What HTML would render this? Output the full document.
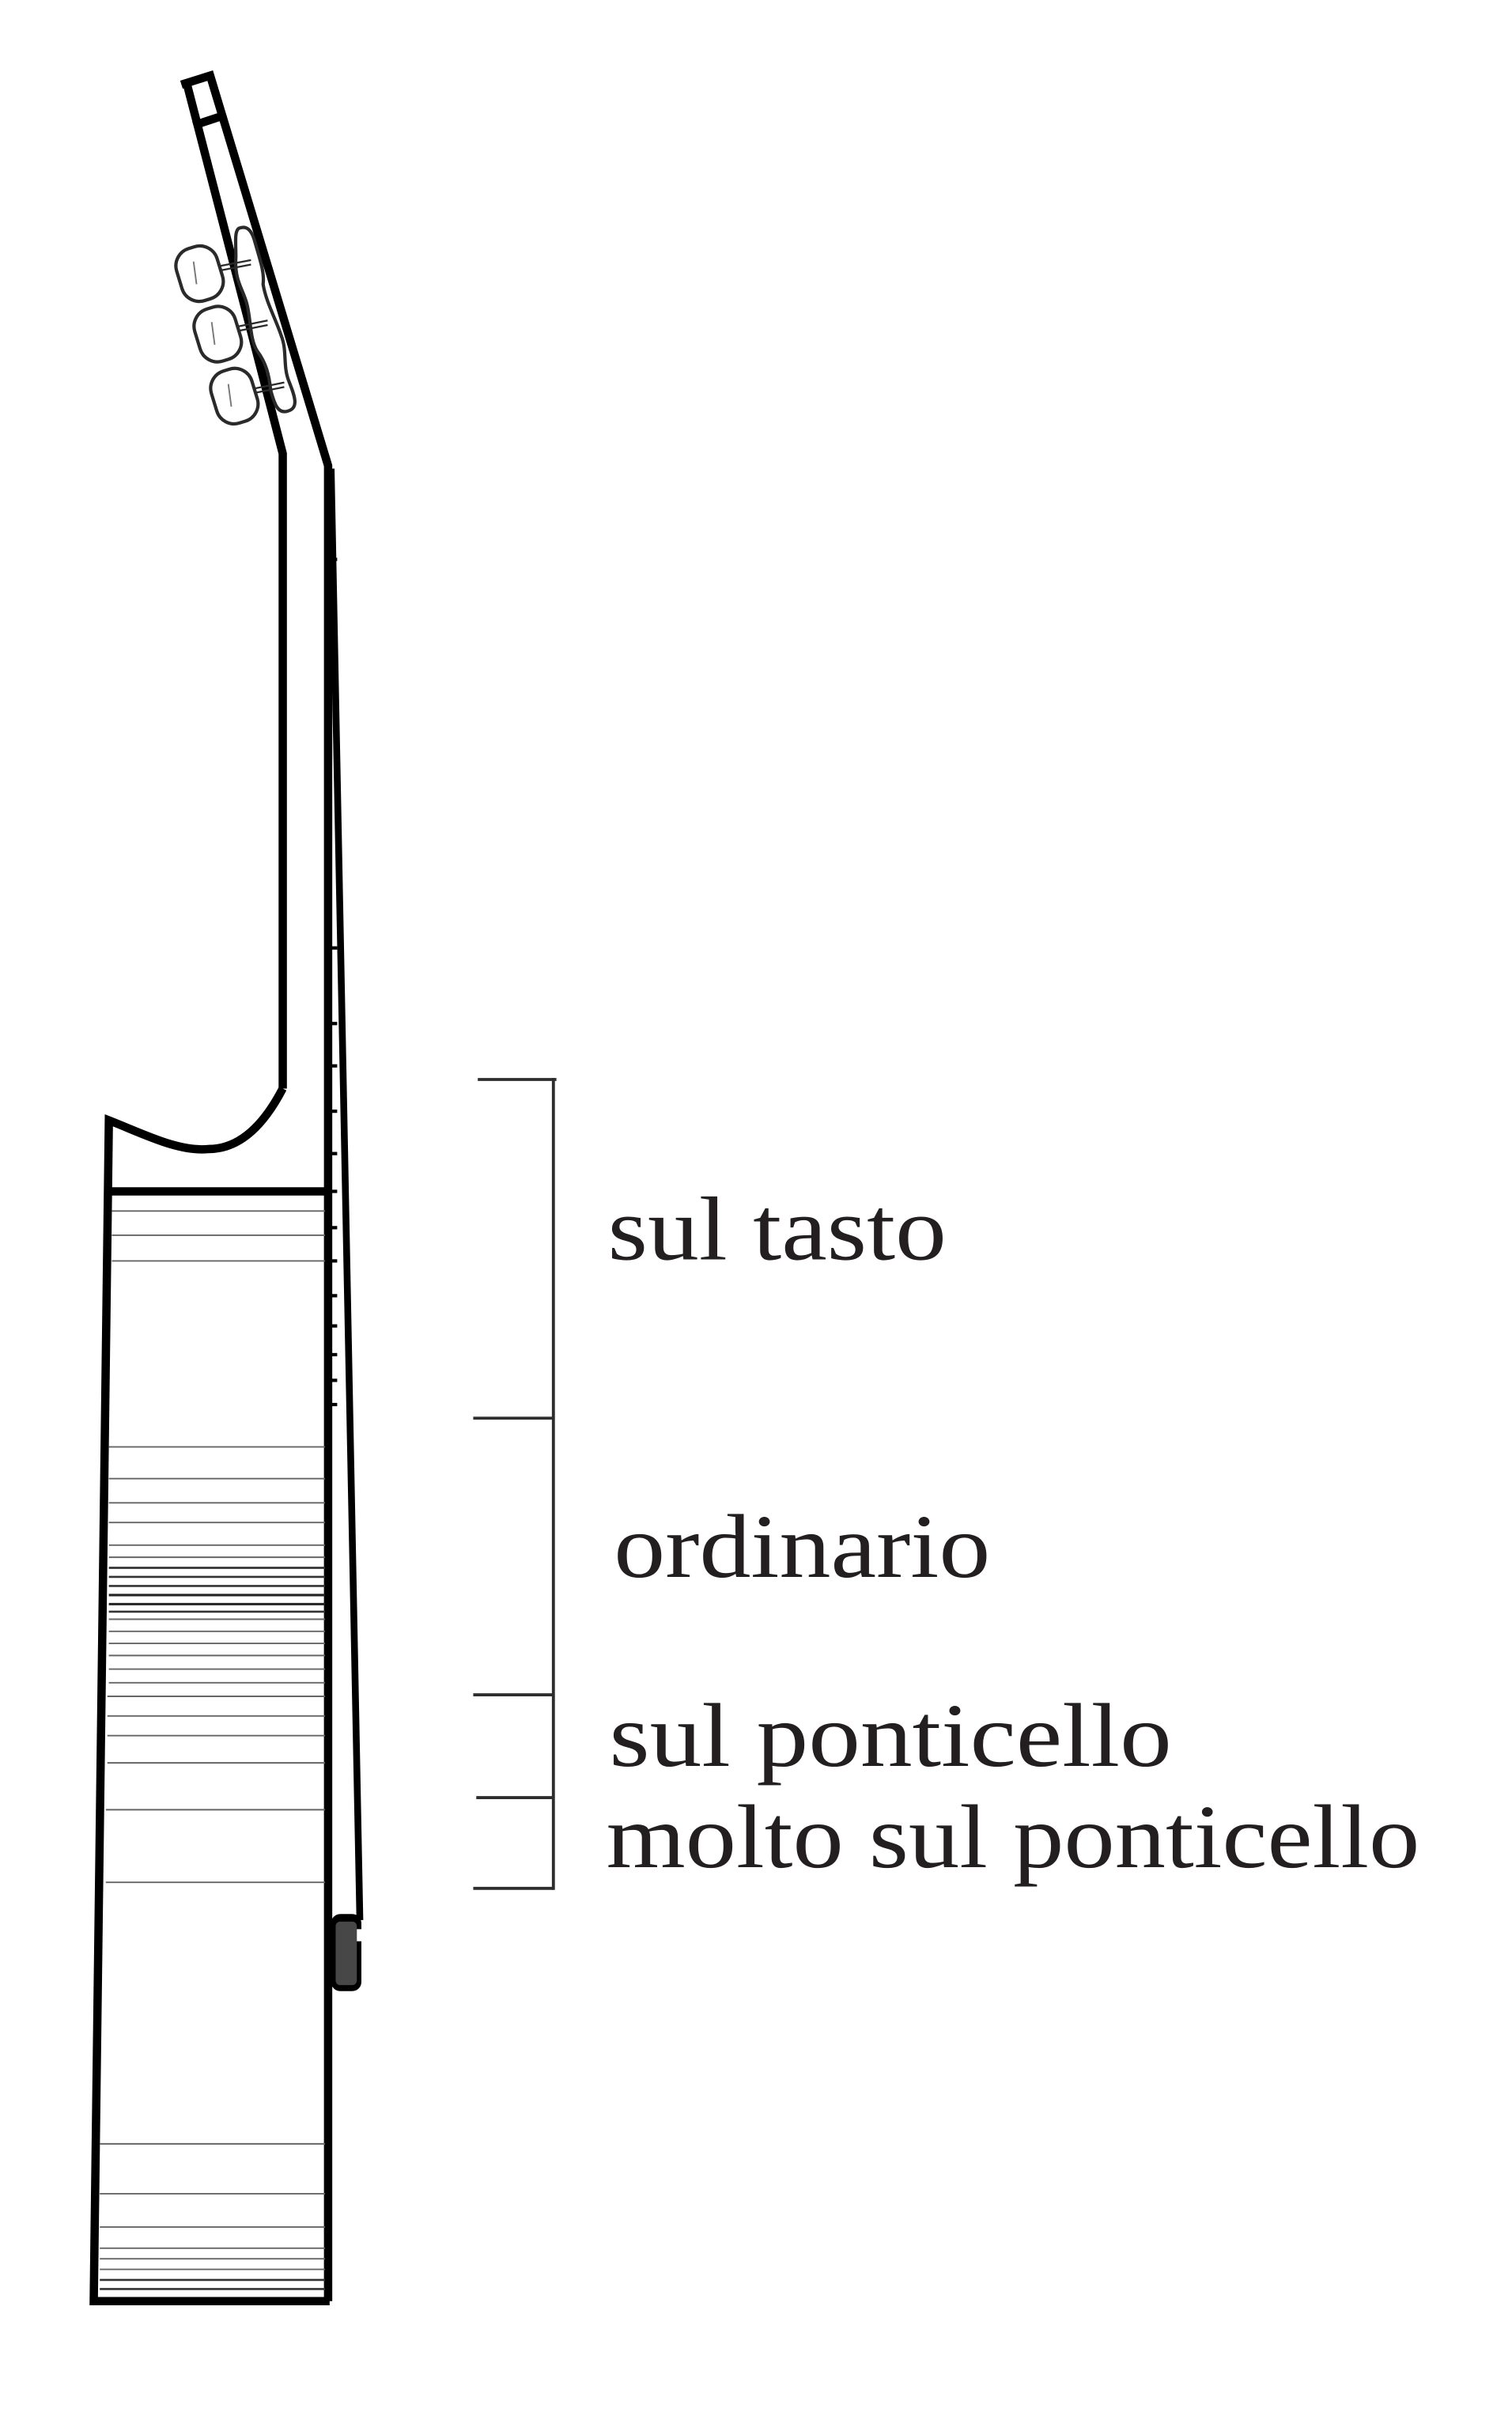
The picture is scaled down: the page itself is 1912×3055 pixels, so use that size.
<!DOCTYPE html>
<html><head><meta charset="utf-8"><style>
html,body{margin:0;padding:0;background:#fff;}
svg{display:block;}
</style></head><body>
<svg width="1912" height="3055" viewBox="0 0 1000 1598" preserveAspectRatio="none" xmlns="http://www.w3.org/2000/svg">
<rect width="1000" height="1598" fill="#fff"/>
<g fill="none" stroke="#000" stroke-width="5.5" stroke-linejoin="miter">
  <polyline points="124,57 187,300 187,720"/>
  <polyline points="120,56 139,50 217,308 217,1522"/>
  <line x1="128" y1="83" x2="146" y2="77"/>
</g>
<g fill="#fff" stroke="#2a2a2a" stroke-width="2.2">
  <path d="M158,151 C163,149 166,152 168,158 C172,172 175,180 174,188 C176,200 182,210 186,222 C190,232 187,242 191,252 C195,262 198,270 190,272 C183,274 181,265 179,258 C178,248 176,240 170,232 C165,224 166,210 163,200 C160,190 155,185 156,170 C156,160 155,153 158,151 Z"/>
  <g transform="rotate(-17 132 181)"><rect x="118" y="163" width="28" height="36" rx="12"/></g>
  <g transform="rotate(-17 144 221)"><rect x="130" y="203" width="28" height="36" rx="12"/></g>
  <g transform="rotate(-17 155 262)"><rect x="141" y="244" width="28" height="36" rx="12"/></g>
  <g stroke-width="1.2">
    <line x1="145" y1="176" x2="166" y2="172"/><line x1="145" y1="179" x2="166" y2="175"/>
    <line x1="157" y1="216" x2="177" y2="212"/><line x1="157" y1="219" x2="177" y2="215"/>
    <line x1="168" y1="257" x2="188" y2="253"/><line x1="168" y1="260" x2="188" y2="256"/>
  </g>
  <g stroke="#777" stroke-width="1"><line x1="128" y1="173" x2="130" y2="188"/><line x1="140" y1="213" x2="142" y2="228"/><line x1="151" y1="254" x2="153" y2="269"/></g>
</g>
<g fill="none" stroke="#000" stroke-width="5.5">
  <path d="M187,720 C174,745 158,760 138,760 C118,762 95,750 72,741 L62,1522 L218,1522"/>
  <line x1="72" y1="788" x2="217" y2="788"/>
</g>
<g stroke="#666" stroke-width="1">
  <line x1="74" y1="801" x2="215" y2="801"/><line x1="74" y1="817" x2="215" y2="817"/><line x1="74" y1="834" x2="215" y2="834"/>
  <line x1="72" y1="957" x2="215" y2="957"/><line x1="72" y1="978" x2="215" y2="978"/><line x1="72" y1="994" x2="215" y2="994"/>
  <line x1="72" y1="1007" x2="215" y2="1007"/><line x1="72" y1="1022" x2="215" y2="1022"/><line x1="72" y1="1030" x2="215" y2="1030"/>
  <line x1="72" y1="1037" x2="215" y2="1037" stroke="#333" stroke-width="1.4"/><line x1="72" y1="1043" x2="215" y2="1043" stroke="#333" stroke-width="1.4"/>
  <line x1="72" y1="1049" x2="215" y2="1049" stroke="#333" stroke-width="1.4"/><line x1="72" y1="1055" x2="215" y2="1055" stroke="#222" stroke-width="1.6"/>
  <line x1="72" y1="1061" x2="215" y2="1061" stroke="#222" stroke-width="1.6"/><line x1="72" y1="1066" x2="215" y2="1066" stroke="#333" stroke-width="1.4"/>
  <line x1="72" y1="1071" x2="215" y2="1071"/><line x1="72" y1="1079" x2="215" y2="1079"/><line x1="72" y1="1087" x2="215" y2="1087"/>
  <line x1="72" y1="1095" x2="215" y2="1095"/><line x1="72" y1="1104" x2="215" y2="1104"/><line x1="72" y1="1113" x2="215" y2="1113"/>
  <line x1="71" y1="1122" x2="215" y2="1122"/><line x1="71" y1="1135" x2="215" y2="1135"/><line x1="71" y1="1148" x2="215" y2="1148"/>
  <line x1="71" y1="1166" x2="215" y2="1166"/><line x1="70" y1="1197" x2="215" y2="1197"/><line x1="70" y1="1245" x2="215" y2="1245"/>
  <line x1="66" y1="1418" x2="215" y2="1418"/><line x1="66" y1="1451" x2="215" y2="1451"/><line x1="66" y1="1473" x2="215" y2="1473"/>
  <line x1="66" y1="1487" x2="215" y2="1487"/><line x1="66" y1="1494" x2="215" y2="1494"/><line x1="66" y1="1501" x2="215" y2="1501"/>
  <line x1="66" y1="1508" x2="215" y2="1508" stroke="#333" stroke-width="1.4"/><line x1="66" y1="1514" x2="215" y2="1514" stroke="#333" stroke-width="1.4"/>
</g>
<g stroke="#000">
  <line x1="219" y1="310" x2="238" y2="1270" stroke-width="4.5"/>
  <g stroke-width="2.2">
    <line x1="218" y1="370" x2="223" y2="370"/><line x1="218" y1="627" x2="223" y2="627"/>
    <line x1="218" y1="677" x2="223" y2="677"/><line x1="218" y1="705" x2="223" y2="705"/>
    <line x1="218" y1="735" x2="223" y2="735"/><line x1="218" y1="763" x2="223" y2="763"/>
    <line x1="218" y1="788" x2="223" y2="788"/><line x1="218" y1="812" x2="223" y2="812"/>
    <line x1="218" y1="834" x2="223" y2="834"/><line x1="218" y1="857" x2="223" y2="857"/>
    <line x1="218" y1="877" x2="223" y2="877"/><line x1="218" y1="896" x2="223" y2="896"/>
    <line x1="218" y1="913" x2="223" y2="913"/><line x1="218" y1="929" x2="223" y2="929"/>
  </g>
</g>
<g>
  <rect x="219" y="1266" width="20" height="51" rx="6" fill="#000"/>
  <rect x="222" y="1271" width="14" height="42" rx="3" fill="#474747"/>
  <rect x="236" y="1276" width="4" height="8" fill="#fff"/>
</g>
<g stroke="#2d2d2d" stroke-width="2">
  <line x1="366" y1="713" x2="366" y2="1250"/>
  <line x1="316" y1="714" x2="368" y2="714"/>
  <line x1="313" y1="938" x2="366" y2="938"/>
  <line x1="313" y1="1121" x2="366" y2="1121"/>
  <line x1="315" y1="1189" x2="366" y2="1189"/>
  <line x1="313" y1="1249" x2="366" y2="1249"/>
</g>
<g font-family="'Liberation Serif', serif" font-size="60" fill="#231f20">
  <text x="402" y="833" textLength="224" lengthAdjust="spacingAndGlyphs">sul tasto</text>
  <text x="406" y="1043" textLength="249" lengthAdjust="spacingAndGlyphs">ordinario</text>
  <text x="403" y="1168" textLength="372" lengthAdjust="spacingAndGlyphs">sul ponticello</text>
  <text x="401" y="1235" textLength="538" lengthAdjust="spacingAndGlyphs">molto sul ponticello</text>
</g>
</svg>
</body></html>
